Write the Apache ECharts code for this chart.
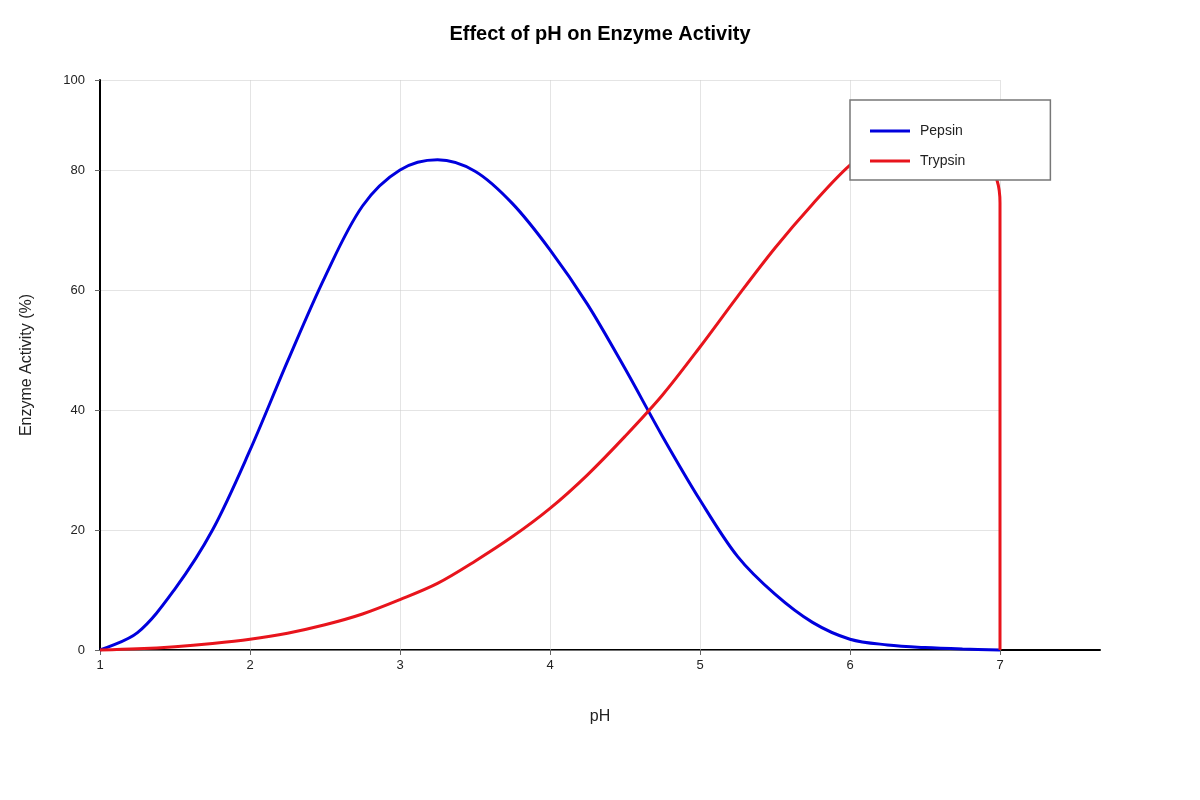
<!DOCTYPE html>
<html>
<head>
<meta charset="utf-8">
<script src="https://cdn.jsdelivr.net/npm/echarts@6/dist/echarts.min.js"></script>
<style>
html,body{margin:0;padding:0;background:#fff;}
#c{width:1200px;height:800px;}
</style>
</head>
<body>
<div id="c"></div>
<script>
const titleText = 'Effect of pH on Enzyme Activity';
const xAxisName = 'pH';
const yAxisName = 'Enzyme Activity (%)';
const seriesNames = ['Pepsin', 'Trypsin'];

const phPepsin = [1, 1.25, 1.5, 1.75, 2, 2.25, 2.5, 2.75, 3, 3.25, 3.5, 3.75, 4, 4.25, 4.5, 4.75, 5, 5.25, 5.5, 5.75, 6, 6.25, 6.5, 6.75, 7];
const pepsin   = [0, 2.9, 10.2, 20, 33.3, 48.1, 62.2, 74, 80, 81.7, 79.8, 74.4, 66.7, 57.6, 46.9, 35.6, 25, 15.6, 9.3, 4.6, 1.8, 0.85, 0.4, 0.15, 0];

const phTrypsin = [1, 1.25, 1.5, 1.75, 2, 2.25, 2.5, 2.75, 3, 3.25, 3.5, 3.75, 4, 4.25, 4.5, 4.75, 5, 5.25, 5.5, 5.75, 6, 6.25, 6.5, 6.75, 6.9, 6.98, 7, 7];
const trypsin   = [0, 0.2, 0.56, 1.1, 1.8, 2.8, 4.2, 6.0, 8.4, 11.1, 14.8, 18.9, 23.6, 29.2, 35.6, 42.5, 50.5, 58.9, 67.0, 74.3, 80.8, 85.3, 88, 86.5, 82.5, 78.3, 74.5, 0];

const xTickLabels = ['1', '2', '3', '4', '5', '6', '7'];
const yTickValues = [0, 20, 40, 60, 80, 95];
const yTickLabels = ['0', '20', '40', '60', '80', '100'];

const font = '"Liberation Sans", Arial, Helvetica, sans-serif';
const gridColor = 'rgba(205,205,205,0.55)';

const chart = echarts.init(document.getElementById('c'), null, {renderer: 'canvas'});
const option = {
  animation: false,
  backgroundColor: '#fff',
  textStyle: {fontFamily: font},
  title: {
    text: titleText,
    left: 'center',
    top: 19,
    textStyle: {fontSize: 20, fontWeight: 'bold', color: '#000', fontFamily: font}
  },
  legend: {
    data: seriesNames,
    orient: 'vertical',
    left: 850,
    top: 100,
    padding: [24, 85, 12, 20],
    icon: 'rect',
    itemWidth: 40,
    itemHeight: 3,
    itemGap: 16,
    backgroundColor: '#fff',
    borderColor: '#777',
    borderWidth: 1.5,
    textStyle: {fontSize: 14, color: '#222', fontFamily: font, padding: [0, 0, 0, 5]},
    z: 10
  },
  grid: [
    {left: 100, top: 80, width: 1000, height: 570},
    {left: 100, top: 80, width: 900, height: 570}
  ],
  xAxis: [
    {
      gridIndex: 0, type: 'value', min: 1, max: 1 + 1000 / 150,
      name: xAxisName, nameLocation: 'middle', nameGap: 59,
      nameTextStyle: {fontSize: 16, color: '#222', fontFamily: font},
      axisLine: {show: true, lineStyle: {color: '#000', width: 2}},
      axisTick: {show: false}, axisLabel: {show: false}, splitLine: {show: false}
    },
    {
      gridIndex: 1, type: 'value', min: 1, max: 7, interval: 1, z: 3,
      axisLine: {show: false},
      axisTick: {show: true, length: 5, lineStyle: {color: '#666', width: 1}},
      axisLabel: {
        color: '#222', fontSize: 13, margin: 9, fontFamily: font,
        formatter: v => { const i = Math.round(v) - 1; return xTickLabels[i] !== undefined ? xTickLabels[i] : ''; }
      },
      splitLine: {show: true, lineStyle: {color: gridColor, width: 1}}
    }
  ],
  yAxis: [
    {gridIndex: 0, type: 'value', min: 0, max: 95, show: false},
    {
      gridIndex: 1, type: 'value', min: 0, max: 95, interval: 20, z: 3,
      name: yAxisName, nameLocation: 'middle', nameGap: 65,
      nameTextStyle: {fontSize: 16, color: '#222', fontFamily: font},
      axisLine: {show: true, lineStyle: {color: '#000', width: 2}},
      axisTick: {show: true, length: 5, lineStyle: {color: '#666', width: 1}},
      axisLabel: {
        color: '#222', fontSize: 13, margin: 15, fontFamily: font,
        formatter: v => { const i = yTickValues.indexOf(v); return i >= 0 ? yTickLabels[i] : ''; }
      },
      splitLine: {show: true, lineStyle: {color: gridColor, width: 1}}
    }
  ],
  series: [
    {
      name: seriesNames[0], type: 'line', xAxisIndex: 1, yAxisIndex: 1,
      data: phPepsin.map((x, i) => [x, pepsin[i]]),
      smooth: 0.33, symbol: 'none', showSymbol: false, clip: false,
      lineStyle: {color: '#0000dd', width: 3},
      itemStyle: {color: '#0000dd'}
    },
    {
      name: seriesNames[1], type: 'line', xAxisIndex: 1, yAxisIndex: 1,
      data: phTrypsin.map((x, i) => [x, trypsin[i]]),
      smooth: 0.33, symbol: 'none', showSymbol: false, clip: false,
      lineStyle: {color: '#e8141c', width: 3},
      itemStyle: {color: '#e8141c'}
    }
  ]
};
chart.setOption(option);
</script>
</body>
</html>
